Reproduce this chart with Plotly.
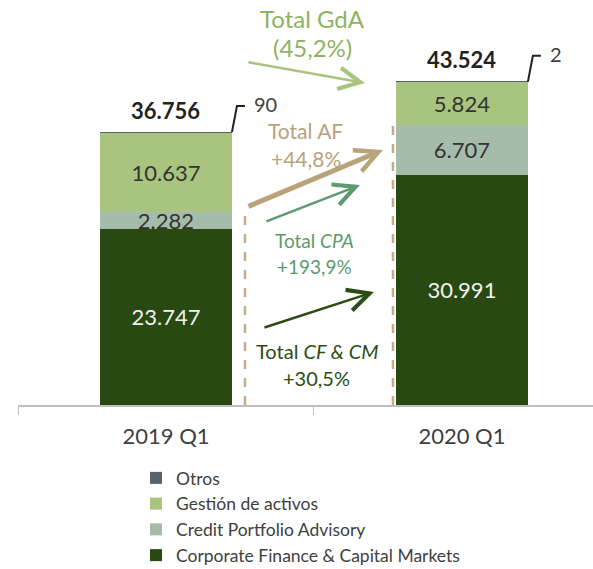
import plotly.graph_objects as go

categories = ["2019 Q1", "2020 Q1"]
cf_cm = [23747, 30991]
cpa = [2282, 6707]
gda = [10637, 5824]
otros = [90, 2]

series_names = ["Corporate Finance & Capital Markets", "Credit Portfolio Advisory",
                "Gestión de activos", "Otros"]
series_values = [cf_cm, cpa, gda, otros]
series_colors = ["#284a12", "#a6bcab", "#a8c47e", "#58626e"]
text_colors = ["#f2f2f2", "#333333", "#333333", "#333333"]

totals = [sum(v) for v in zip(cf_cm, cpa, gda, otros)]
cf_cpa = [a + b for a, b in zip(cf_cm, cpa)]

FONT = "Lato"
PX = 0.007427  # px per unit (for offsets)
BW = 0.446

fig = go.Figure()
for name, vals, col, tc in zip(series_names, series_values, series_colors, text_colors):
    show_text = name != "Otros"
    fig.add_trace(go.Bar(
        x=categories, y=vals, name=name, marker=dict(color=col, line=dict(width=0)),
        width=BW,
        texttemplate="%{y:,.0f}" if show_text else "",
        textposition="inside", insidetextanchor="middle",
        textfont=dict(size=22, color=tc, family=FONT),
        hoverinfo="skip",
    ))

shapes = []
annotations = []
xi = [0, 1]
for i in range(2):
    annotations.append(dict(x=xi[i], y=totals[i] + 22 / PX, xref="x", yref="y",
                            text="<b>" + f"{totals[i]:,}".replace(",", ".") + "</b>",
                            showarrow=False, font=dict(size=22, color="#222222", family=FONT)))
    x0 = xi[i] + BW / 2
    yt = totals[i]
    y1 = yt + 26 / PX
    shapes.append(dict(type="path", xref="x", yref="y",
                       path=f"M {x0},{yt} L {x0 + 5/296},{y1} L {x0 + 13/296},{y1}",
                       line=dict(color="#222222", width=2)))
    annotations.append(dict(x=x0 + 20 / 296, y=y1 + 2 / PX, xref="x", yref="y",
                            text=str(otros[i]), showarrow=False, xanchor="left",
                            font=dict(size=20, color="#404040", family=FONT)))

shapes.append(dict(type="line", xref="x", yref="y", x0=0.267, x1=0.267, y0=0, y1=cf_cpa[0],
                   line=dict(color="#c2ad88", width=2.5, dash="dash")))
shapes.append(dict(type="line", xref="x", yref="y", x0=0.767, x1=0.767, y0=0, y1=cf_cpa[1],
                   line=dict(color="#c2ad88", width=2.5, dash="dash")))

def pxy(px, py):
    return (px - 166) / 296, (405 - py) / PX

arrows = [
    ((247, 62), (365, 83), "#a9c47e", 2.5),
    ((247, 207), (383, 150), "#b8a37a", 5),
    ((265, 222), (360, 185), "#5e9a6e", 2.5),
    ((263, 328), (374, 292), "#2b4d14", 2.5),
]
for (t, h, col, w) in arrows:
    tx, ty = pxy(*t)
    hx, hy = pxy(*h)
    annotations.append(dict(x=hx, y=hy, ax=tx, ay=ty, xref="x", yref="y", axref="x", ayref="y",
                            text="", showarrow=True, arrowhead=5, arrowsize=1.7 if w < 4 else 0.9,
                            arrowwidth=w, arrowcolor=col, standoff=0))

labels = [
    ((313, 18), "Total GdA", "#8db35f", 24),
    ((313, 47), "(45,2%)", "#8db35f", 24),
    ((306, 130), "Total AF", "#b8a37a", 21),
    ((306, 158), "+44,8%", "#b8a37a", 21),
    ((315, 240), "Total <i>CPA</i>", "#5c9a6c", 19),
    ((315, 266), "+193,9%", "#5c9a6c", 19),
    ((317, 351), "Total <i>CF & CM</i>", "#2b4d14", 20),
    ((317, 378), "+30,5%", "#2b4d14", 20),
]
for (p, txt, col, sz) in labels:
    x, y = pxy(*p)
    annotations.append(dict(x=x, y=y, xref="x", yref="y", text=txt, showarrow=False,
                            font=dict(size=sz, color=col, family=FONT)))

fig.update_layout(
    barmode="stack",
    width=593, height=569,
    margin=dict(l=18, r=0, t=0, b=164, autoexpand=False),
    paper_bgcolor="white", plot_bgcolor="white",
    separators=",.",
    uniformtext=dict(mode="show", minsize=22),
    font=dict(family=FONT, color="#404040"),
    shapes=shapes, annotations=annotations,
    showlegend=True,
    legend=dict(traceorder="reversed", xref="container", yref="container",
                x=136 / 593, y=1 - 460 / 569, xanchor="left", yanchor="top",
                font=dict(size=17.5, color="#404040", family=FONT), bgcolor="rgba(0,0,0,0)",
                itemclick=False),
    xaxis=dict(range=[-0.5, 1.443], showline=True, linecolor="#bfbfbf", linewidth=1.5,
               ticks="outside", tickson="boundaries", ticklen=8, tickcolor="#bfbfbf",
               tickfont=dict(size=22, color="#404040", family=FONT), ticklabelstandoff=11,
               showgrid=False, zeroline=False, fixedrange=True, automargin=False),
    yaxis=dict(range=[0, 405 / PX], visible=False, fixedrange=True, automargin=False),
)

fig.write_html("out.html", config={"displayModeBar": False},
               post_script="document.body.style.margin='0';document.body.style.padding='0';")
